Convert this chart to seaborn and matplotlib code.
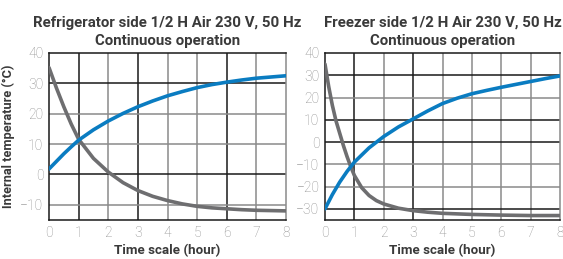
import matplotlib
matplotlib.use("Agg")
import matplotlib.pyplot as plt
import seaborn as sns
import pandas as pd

sns.set_style("white")
plt.rcParams['font.family'] = ['Roboto', 'DejaVu Sans']

hours = [0, 0.25, 0.5, 0.75, 1, 1.5, 2, 2.5, 3, 3.5, 4, 4.5, 5, 5.5, 6, 6.5, 7, 7.5, 8]
hours_fine = [0, 0.125, 0.25, 0.375, 0.5, 0.625, 0.75, 0.875, 1, 1.25, 1.5, 1.75, 2, 2.5, 3, 3.5, 4, 5, 6, 7, 8]

fridge_air = [1.8, 4.3, 6.8, 9.1, 11.3, 14.7, 17.6, 20.1, 22.3, 24.2, 25.9, 27.3, 28.6, 29.6, 30.4, 31.1, 31.7, 32.1, 32.5]
fridge_cool = [35.2, 28.5, 22.3, 16.6, 11.6, 5.3, 0.8, -2.7, -5.3, -7.2, -8.6, -9.7, -10.5, -11.0, -11.3, -11.6, -11.8, -11.9, -12.0]

freezer_air = [-30.0, -23.6, -18.0, -13.2, -9.0, -2.6, 2.5, 6.8, 10.4, 14.0, 17.3, 19.7, 21.7, 23.2, 24.6, 25.9, 27.2, 28.5, 29.7]
freezer_cool = [35.0, 25.0, 16.5, 9.5, 4.0, -1.5, -6.5, -11.0, -15.0, -20.5, -24.0, -26.3, -27.8, -29.7, -30.8, -31.5, -32.0, -32.5, -32.8, -33.0, -33.0]

titles = ["Refrigerator side 1/2 H Air 230 V, 50 Hz\nContinuous operation",
          "Freezer side 1/2 H Air 230 V, 50 Hz\nContinuous operation"]
x_ticks = [0, 1, 2, 3, 4, 5, 6, 7, 8]
y_ticks_left = [-10, 0, 10, 20, 30, 40]
y_ticks_right = [-30, -20, -10, 0, 10, 20, 30, 40]

BLUE = "#0a7cc1"
GRAY = "#6e6e70"
DARK = "#1a1a1a"
LIGHT = "#8a8a8a"
TXT = "#3a3a3a"

fig = plt.figure(figsize=(5.63, 2.59), dpi=100)
ax1 = fig.add_axes([49/563, 1-220/259, (286-49)/563, (220-53)/259])
ax2 = fig.add_axes([325/563, 1-220/259, (560-325)/563, (220-53)/259])

air1 = pd.DataFrame({"t": hours, "temp": fridge_air})
cool1 = pd.DataFrame({"t": hours, "temp": fridge_cool})
air2 = pd.DataFrame({"t": hours, "temp": freezer_air})
cool2 = pd.DataFrame({"t": hours_fine, "temp": freezer_cool})

configs = [
    (ax1, air1, cool1, (-15, 40), y_ticks_left,
     {1: DARK, 2: LIGHT, 3: DARK, 4: LIGHT, 5: LIGHT, 6: DARK, 7: LIGHT},
     {30: DARK, 20: LIGHT, 10: LIGHT, 0: DARK, -10: LIGHT}),
    (ax2, air2, cool2, (-35, 40), y_ticks_right,
     {1: DARK, 2: LIGHT, 3: DARK, 4: LIGHT, 5: LIGHT, 6: LIGHT, 7: LIGHT},
     {30: DARK, 20: LIGHT, 10: DARK, 0: DARK, -10: LIGHT, -20: LIGHT, -30: DARK}),
]

for i, (ax, dfa, dfc, ylim, yt, vcol, hcol) in enumerate(configs):
    for xv, c in vcol.items():
        ax.axvline(xv, color=c, lw=1.1, zorder=1)
    for yv, c in hcol.items():
        ax.axhline(yv, color=c, lw=1.1, zorder=1)
    sns.lineplot(data=dfc, x="t", y="temp", ax=ax, color=GRAY, lw=2.6, zorder=3)
    sns.lineplot(data=dfa, x="t", y="temp", ax=ax, color=BLUE, lw=2.6, zorder=4)
    ax.set_xlim(0, 8)
    ax.set_ylim(*ylim)
    ax.set_xticks(x_ticks)
    ax.set_yticks(yt)
    ax.tick_params(axis="both", length=0, labelsize=10, labelcolor="#8c8c8c", pad=4)
    for lab in ax.get_xticklabels() + ax.get_yticklabels():
        lab.set_fontweight("light")
    for sname, sp in ax.spines.items():
        sp.set_visible(True)
        sp.set_linewidth(1.1)
        sp.set_color(DARK if sname in ("left", "bottom", "top") else LIGHT)
    ax.set_xlabel("Time scale (hour)", fontsize=9.6, fontweight="bold", color=TXT, labelpad=3)
    ax.set_ylabel("")
    ax.set_title(titles[i], fontsize=10.8, fontweight="bold", color=TXT, pad=6, linespacing=1.35)

ax1.set_ylabel("Internal temperature (°C)", fontsize=9.2, fontweight="bold", color=TXT, labelpad=4)

fig.savefig("out.png", dpi=100)
